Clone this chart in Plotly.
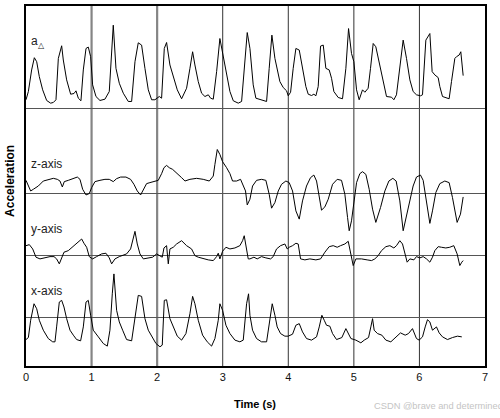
import plotly.graph_objects as go

# Time stamps (s) and acceleration traces (arbitrary units, 0 = each trace's baseline)
t_a = [0.00, 0.036, 0.086, 0.127, 0.163, 0.203, 0.254, 0.315, 0.376, 0.417,
       0.457, 0.493, 0.544, 0.569, 0.620, 0.681, 0.732, 0.762, 0.798, 0.838,
       0.874, 0.915, 0.950, 0.986, 1.016, 1.067, 1.128, 1.204, 1.270, 1.331,
       1.372, 1.423, 1.484, 1.560, 1.611, 1.662, 1.712, 1.763, 1.814, 1.865,
       1.916, 1.966, 2.033, 2.068, 2.109, 2.144, 2.195, 2.246, 2.307, 2.373,
       2.449, 2.500, 2.541, 2.576, 2.627, 2.678, 2.729, 2.780, 2.815, 2.856,
       2.907, 2.957, 3.008, 3.059, 3.110, 3.161, 3.237, 3.288, 3.338, 3.374,
       3.415, 3.465, 3.506, 3.567, 3.628, 3.669, 3.709, 3.750, 3.796, 3.831,
       3.872, 3.923, 3.974, 3.999, 4.035, 4.075, 4.116, 4.167, 4.217, 4.268,
       4.304, 4.355, 4.390, 4.421, 4.456, 4.492, 4.533, 4.573, 4.624, 4.660,
       4.695, 4.761, 4.827, 4.878, 4.919, 4.964, 5.000, 5.041, 5.081, 5.132,
       5.168, 5.218, 5.254, 5.295, 5.335, 5.386, 5.447, 5.498, 5.574, 5.610,
       5.650, 5.701, 5.752, 5.803, 5.854, 5.904, 5.955, 6.016, 6.047, 6.098,
       6.123, 6.159, 6.194, 6.235, 6.286, 6.311, 6.352, 6.413, 6.453, 6.489,
       6.540, 6.565, 6.606, 6.631, 6.667]
a_delta = [8.7, 17, 38.7, 51, 47, 32, 18.7, 8, 5.3, 6,
           8.7, 50.3, 63, 48.7, 28.7, 14.3, 15, 17.7, 10.3, 7.7,
           38.7, 60.3, 61.7, 52, 23.7, 12, 8, 9.3, 17, 83.7,
           40.3, 25.3, 15.3, 7, 7, 47, 66, 63.7, 40.3, 18.7,
           8.7, 8.7, 12, 10.3, 60.3, 66.3, 43.7, 32, 18.7, 9.7,
           20.3, 40.3, 57, 43.7, 27, 15.3, 12, 13.7, 10.3, 9.3,
           37, 70.3, 53.7, 33.7, 17, 7.7, 5.3, 7, 47, 76.3,
           60.3, 23.7, 10.3, 9.3, 8.3, 7, 40.3, 73.7, 50.3, 38.7,
           27, 21, 17.7, 12.7, 16.3, 40.3, 60.3, 58.7, 40.3, 22,
           14.3, 13, 14.3, 12.7, 22, 62.7, 63.7, 40.3, 38.7, 30.3,
           17, 11, 9.7, 40.3, 80.3, 55.3, 47, 18.7, 8.7, 18.7,
           16.3, 20.3, 40.3, 65.3, 62, 45.3, 27, 12, 11.3, 8.7,
           13.7, 43.7, 68.7, 50.3, 28.7, 17, 13.7, 12.7, 13.7, 68.7,
           71, 75.3, 37, 33.7, 31, 22, 12, 10.3, 9.7, 27,
           50.3, 52, 53.7, 57, 33]

t_z = [0, 0.036, 0.071, 0.112, 0.188, 0.264, 0.340, 0.417, 0.478, 0.518,
       0.554, 0.584, 0.645, 0.722, 0.783, 0.823, 0.864, 0.915, 0.965, 1.001,
       1.052, 1.128, 1.204, 1.270, 1.331, 1.382, 1.443, 1.524, 1.595, 1.646,
       1.697, 1.748, 1.789, 1.839, 1.890, 1.966, 2.017, 2.068, 2.104, 2.144,
       2.185, 2.236, 2.297, 2.373, 2.424, 2.500, 2.602, 2.703, 2.795, 2.856,
       2.881, 2.917, 2.957, 2.998, 3.059, 3.110, 3.150, 3.211, 3.272, 3.313,
       3.348, 3.374, 3.404,
       3.415, 3.455, 3.516, 3.592, 3.658, 3.709, 3.745, 3.796, 3.847, 3.897,
       3.963, 4.014, 4.065, 4.116, 4.167, 4.217, 4.278, 4.339, 4.390, 4.431,
       4.472, 4.507, 4.558, 4.609, 4.675, 4.746, 4.812, 4.863, 4.904, 4.929,
       4.964, 5.000, 5.041, 5.091, 5.132, 5.183, 5.234, 5.285, 5.335, 5.407,
       5.473, 5.534, 5.595, 5.645, 5.701, 5.752, 5.793, 5.844, 5.904, 5.955,
       6.016, 6.057, 6.108, 6.159, 6.199, 6.250, 6.311, 6.387, 6.453, 6.504,
       6.575, 6.626, 6.667]
z_acc = [13, 7.3, 2.3, 4, 7.3, 12.3, 14, 15, 14, 12.3,
         6.3, 11.7, 13, 15, 16.3, 14, 4, -1.7, -0.3, 5.7,
         11.7, 13, 14, 14, 11.7, 14.7, 16.3, 16.3, 14, 9,
         2.3, -1.7, 3, 9.7, 10.7, 12.3, 13, 19.7, 25.7, 28,
         25.7, 24, 20.7, 15.7, 12.3, 14, 15, 14, 12.3, 17.3,
         29, 44, 39, 31.7, 25.7, 19.7, 12.3, 12.3, 14, 7.3,
         2.3, -11.7, -6,
         -6, 7.3, 13, 14, 13, -1, -15, -9.3, 2.3, 9,
         12.3, 10.7, 2.3, -17.7, -26, -7.7, 7.3, 15.7, 18.3, 12.3,
         -4.3, -17, -13.7, -6, 9, 14, 13, -1, -24.3, -37.7,
         -27.7, -7.7, 10.7, 19.7, 21.7, 19, 4, -16, -29.3, -14.3,
         2.3, 12.3, 15, 12.3, -7.7, -37.7, -26, -11, 7.3, 16.3,
         18.3, 13, -9.3, -30.3, -17.7, 0.7, 9.7, 12.3, 10.7, -4.3,
         -29.3, -21, -3.7]

t_y = [0, 0.051, 0.102, 0.152, 0.213, 0.290, 0.366, 0.427, 0.467, 0.508,
       0.534, 0.579, 0.645, 0.711, 0.783, 0.849, 0.884, 0.925, 0.965, 1.016,
       1.077, 1.153, 1.219, 1.270, 1.306, 1.357, 1.423, 1.473, 1.534, 1.595,
       1.626, 1.662, 1.697, 1.738, 1.789, 1.865, 1.931, 1.992, 2.043, 2.078,
       2.104, 2.144, 2.170, 2.195, 2.246, 2.297, 2.373, 2.449, 2.525, 2.576,
       2.627, 2.703, 2.780, 2.856, 2.907, 2.932, 2.957, 2.998, 3.049, 3.110,
       3.186, 3.262, 3.303, 3.328, 3.354, 3.389,
       3.415, 3.476, 3.526, 3.592, 3.658, 3.730, 3.770, 3.821, 3.882, 3.948,
       3.984, 4.014, 4.065, 4.116, 4.151, 4.187, 4.253, 4.329, 4.421, 4.492,
       4.558, 4.624, 4.685, 4.746, 4.797, 4.863, 4.914, 4.950, 4.990, 5.031,
       5.117, 5.203, 5.270, 5.320, 5.371, 5.422, 5.488, 5.549, 5.610, 5.650,
       5.701, 5.742, 5.778, 5.813, 5.854, 5.915, 5.955, 6.006, 6.057, 6.108,
       6.159, 6.199, 6.235, 6.286, 6.336, 6.402, 6.463, 6.524, 6.575, 6.616,
       6.646, 6.667]
y_acc = [10.3, 11.3, 7, -1.3, -3, -2, -0.7, -0.7, -3, -8,
         -4, 3.7, 5.3, 9.3, 12.7, 17, 12.7, 8.7, -0.7, -3,
         -0.7, 2, 2.7, -2, -8, -3, -0.7, 0.3, 2, 7,
         15.3, 24.7, 12, 2, -3, -2, -1.3, 2, 0.3, -1.3,
         8, 10.3, -8, 7, 8.7, 12, 15.3, 10.3, 7, 0.3,
         -1.3, -3, -4, -4.7, -0.7, 2.7, -3, 4.7, 8.7, 7,
         8, 10.3, 15.3, 20.3, 10.3, -3,
         -3, -1.3, -3, -0.7, -2, -3, -0.7, 7, 10.3, 12,
         7, 8.7, 10.3, 12.7, 12, -3, -4, -3, -4, -3,
         3.7, 9.3, 10.3, 8.7, 10.3, 12, 14.7, 2, -9.7, -3,
         -3, -4, -4.7, -3, 0.3, 5.3, 9.3, 10.3, 8, 10.3,
         15.3, 12, 2, -6.3, -3, -4, -0.7, -2, -0.7, -3,
         -6.3, -1.3, 5.3, 9.3, 8.7, 8, 8.7, 10.3, 2, -9.7,
         -6.3, -4.7]

t_x = [0, 0.036, 0.071, 0.122, 0.163, 0.203, 0.264, 0.340, 0.407, 0.442,
       0.467, 0.508, 0.544, 0.579, 0.620, 0.671, 0.722, 0.772, 0.833, 0.874,
       0.915, 0.950, 0.986, 1.026, 1.103, 1.179, 1.240, 1.280, 1.316, 1.341,
       1.382, 1.423, 1.474, 1.534, 1.611, 1.662, 1.712, 1.763, 1.814, 1.865,
       1.931, 1.982, 2.043, 2.078, 2.109, 2.144, 2.195, 2.246, 2.307, 2.373,
       2.439, 2.500, 2.541, 2.576, 2.627, 2.693, 2.764, 2.830, 2.881, 2.932,
       2.957, 2.998, 3.049, 3.110, 3.186, 3.262, 3.313, 3.364, 3.394,
       3.415, 3.455, 3.516, 3.592, 3.669, 3.719, 3.755, 3.796, 3.831, 3.882,
       3.948, 3.999, 4.065, 4.116, 4.167, 4.217, 4.278, 4.355, 4.431, 4.472,
       4.512, 4.548, 4.583, 4.634, 4.675, 4.736, 4.817, 4.878, 4.919, 4.955,
       5.031, 5.107, 5.158, 5.224, 5.259, 5.285, 5.310, 5.361, 5.427, 5.488,
       5.564, 5.640, 5.711, 5.783, 5.833, 5.894, 5.955, 5.996, 6.047, 6.088,
       6.123, 6.159, 6.199, 6.260, 6.301, 6.352, 6.428, 6.504, 6.580, 6.646]
x_acc = [-21.7, -19.7, -2.3, 14.3, 9.3, -2.3, -12.3, -20.7, -24, -24,
         -9, 16, 17.7, 11, -0.7, -12.3, -17.3, -21.7, -23, -9,
         16, 17.7, 2.7, -12.3, -19, -25.7, -28.3, -12.3, 24.3, 44.3,
         7.7, -4, -12.3, -21.7, -23, -2.3, 22.7, 21.7, -0.7, -12.3,
         -20.7, -25.7, -29, -27.3, 17.7, 18.3, -0.7, -9, -18.3, -22.3,
         -15.7, 4.3, 21.7, 14.3, -2.3, -17.3, -24, -28.3, -20.7, -2.3,
         14.3, 7.7, -7.3, -15.7, -22.3, -24, -22.3, 14.3, 24.3,
         2.7, -12.3, -20.7, -24, -24, 1, 14.3, 2.7, -9, -15.7,
         -18.3, -18.3, -16.3, -7.3, -5.7, -14, -20.7, -22.3, -19, -9,
         2.7, -2.3, -7.3, -8.3, -15.7, -21.7, -19.7, -10.7, -15.7, -20.7,
         -22.3, -25, -22.3, -19.7, -9, -0.7, -12.3, -15.7, -17.3, -22.3,
         -24, -19.7, -15, -17.3, -15.7, -10.7, -20.7, -22.3, -19, -9,
         -1.7, -4, -12.3, -9, -15, -19, -21.7, -19.7, -18.3, -19]

time_ticks = [0, 1, 2, 3, 4, 5, 6, 7]

# name, label, times, values, baseline (stacking offset on the shared y scale), label height
series = [
    ("a_delta", "a<sub>\u25b3</sub>", t_a, a_delta, 259.0, 326),
    ("z", "z-axis", t_z, z_acc, 173.7, 203),
    ("y", "y-axis", t_y, y_acc, 110.7, 138),
    ("x", "x-axis", t_x, x_acc, 48.3, 75),
]

FONT = "Liberation Sans, Arial, sans-serif"

fig = go.Figure()
annotations = []
for name, label, t, vals, base, label_y in series:
    assert len(t) == len(vals), name
    fig.add_trace(go.Scatter(
        x=t, y=[v + base for v in vals], mode="lines",
        line=dict(color="black", width=1), showlegend=False, name=name,
    ))
    annotations.append(dict(
        x=0.05, y=label_y, xref="x", yref="y", text=label, showarrow=False,
        xanchor="left", yanchor="middle", font=dict(family=FONT, size=12, color="#222"),
    ))

annotations += [
    dict(x=-0.035, y=0.514, xref="paper", yref="paper", text="<b>Acceleration</b>",
         textangle=-90, showarrow=False, xanchor="center", yanchor="middle",
         font=dict(family=FONT, size=12, color="black")),
    dict(x=0.499, y=-0.105, xref="paper", yref="paper", text="<b>Time (s)</b>",
         showarrow=False, xanchor="center", yanchor="middle",
         font=dict(family=FONT, size=11, color="black")),
    dict(x=0.754, y=-0.11, xref="paper", yref="paper", text="CSDN @brave and determined",
         xanchor="left", yanchor="middle", showarrow=False,
         font=dict(family=FONT, size=9.3, color="#c4c4c4")),
]

# vertical second markers: gray & heavier at 1 s and 2 s, thin dark elsewhere
shapes = []
for v in time_ticks[1:-1]:
    heavy = v in (1, 2)
    shapes.append(dict(
        type="line", x0=v, x1=v, y0=0, y1=1, xref="x", yref="paper", layer="below",
        line=dict(color="#858585" if heavy else "#333", width=2.2 if heavy else 1),
    ))

fig.update_layout(
    width=500, height=418,
    margin=dict(l=26, r=15, t=4, b=52),
    paper_bgcolor="white", plot_bgcolor="white",
    annotations=annotations, shapes=shapes,
    xaxis=dict(
        range=[0, 7], tickvals=time_ticks, ticks="",
        tickfont=dict(family=FONT, size=11, color="#111"),
        showgrid=False, zeroline=False,
        showline=True, linecolor="black", linewidth=1.5, mirror=True,
    ),
    yaxis=dict(
        range=[0, 362], tickvals=[s[4] for s in series], showticklabels=False,
        showgrid=True, gridcolor="#555", gridwidth=1, zeroline=False,
        showline=True, linecolor="black", linewidth=1.5, mirror=True,
    ),
)

fig.write_html("out.html", config={"displayModeBar": False},
               post_script="document.body.style.margin='0';")
